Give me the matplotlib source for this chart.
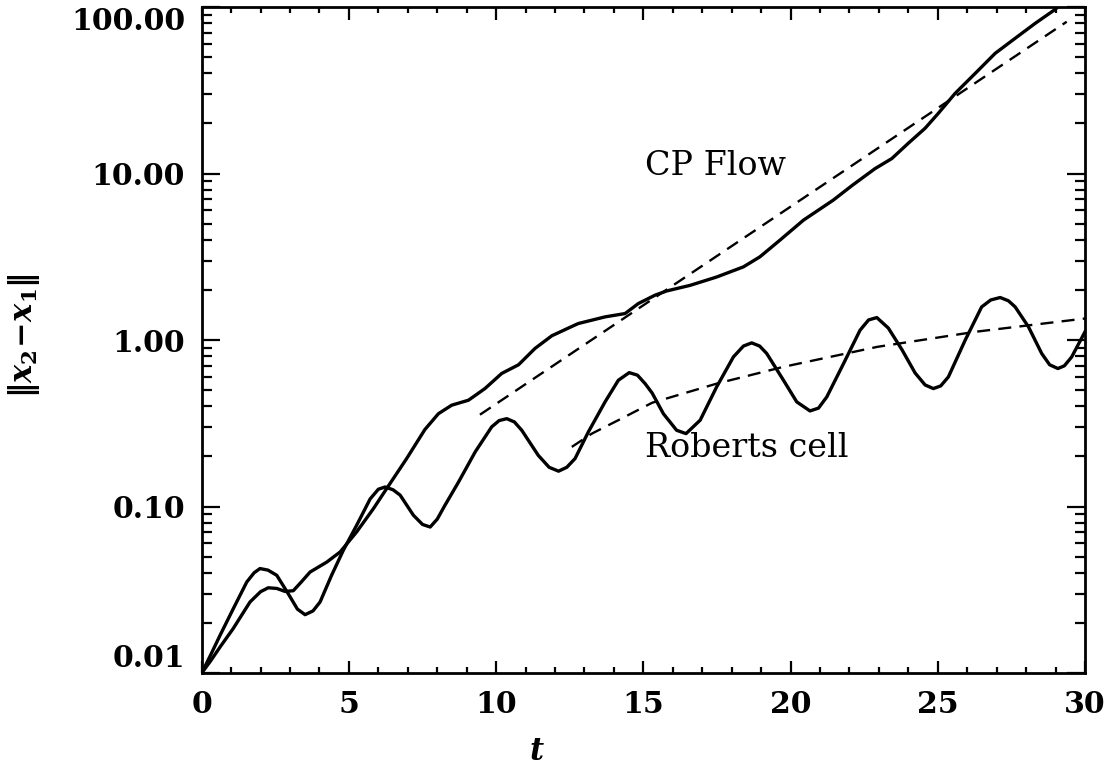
import numpy as np
import matplotlib
matplotlib.use('Agg')
import matplotlib.pyplot as plt
from matplotlib.ticker import FixedLocator, FixedFormatter, MultipleLocator

plt.rcParams['mathtext.fontset'] = 'custom'
plt.rcParams['mathtext.rm'] = 'DejaVu Serif:weight=bold'
plt.rcParams['mathtext.it'] = 'DejaVu Serif:style=italic:weight=bold'

# CP flow separation (solid)
t_cp = [0.0, 0.3, 0.62, 1.07, 1.64, 2.0, 2.26, 2.55, 2.83, 3.11, 3.4, 3.68,
        4.25, 4.7, 5.26, 5.83, 6.28, 6.96, 7.58, 8.04, 8.49, 9.06, 9.62,
        10.19, 10.76, 11.32, 11.89, 12.5, 12.79, 13.7, 14.38, 14.83, 15.4,
        15.79, 16.59, 17.49, 18.4, 18.96, 19.64, 20.44, 21.45, 22.1, 22.87,
        23.44, 24.0, 24.57, 25.02, 25.59, 26.27, 26.95, 27.63, 28.31, 28.99,
        29.1]
d_cp = [0.0100, 0.0118, 0.0143, 0.0185, 0.0267, 0.0308, 0.0325, 0.0322,
        0.0309, 0.0312, 0.0355, 0.0404, 0.0464, 0.0533, 0.0703, 0.097,
        0.128, 0.194, 0.29, 0.361, 0.406, 0.435, 0.511, 0.63, 0.71, 0.89,
        1.06, 1.19, 1.256, 1.377, 1.442, 1.656, 1.86, 1.97, 2.13, 2.39, 2.75,
        3.16, 3.98, 5.25, 6.92, 8.5, 10.7, 12.3, 15.2, 18.7, 23.0, 30.3, 39.9,
        52.7, 64.9, 79.8, 96.8, 101.0]

# Roberts cell separation (solid)
t_rc = [0.0, 0.3, 0.62, 1.07, 1.53, 1.78, 1.98, 2.25, 2.55, 2.94, 3.25, 3.51,
        3.78, 4.02, 4.41, 4.81, 5.26, 5.72, 6.0, 6.23, 6.5, 6.74, 7.19, 7.5,
        7.76, 8.0, 8.26, 8.72, 9.29, 9.85, 10.1, 10.36, 10.62, 10.87, 11.43,
        11.8, 12.12, 12.4, 12.68, 13.13, 13.7, 14.15, 14.52, 14.8, 15.06,
        15.3, 15.68, 16.13, 16.45, 16.93, 17.49, 18.06, 18.4, 18.68, 18.95,
        19.19, 19.76, 20.21, 20.66, 20.95, 21.23, 21.8, 22.36, 22.65, 22.93,
        23.32, 23.78, 24.23, 24.57, 24.85, 25.1, 25.36, 25.93, 26.49, 26.8,
        27.12, 27.4, 27.63, 28.08, 28.53, 28.8, 29.08, 29.3, 29.55, 30.0]
d_rc = [0.0100, 0.0128, 0.0168, 0.0243, 0.0352, 0.0400, 0.0424, 0.0415,
        0.0386, 0.0299, 0.0242, 0.0224, 0.0236, 0.0267, 0.0386, 0.0546,
        0.077, 0.111, 0.127, 0.131, 0.126, 0.117, 0.0886, 0.078, 0.0753,
        0.084, 0.1016, 0.140, 0.213, 0.301, 0.328, 0.337, 0.322, 0.287,
        0.203, 0.172, 0.163, 0.172, 0.194, 0.280, 0.425, 0.573, 0.637,
        0.615, 0.547, 0.48, 0.361, 0.287, 0.274, 0.330, 0.523, 0.792, 0.92,
        0.961, 0.92, 0.83, 0.573, 0.425, 0.375, 0.39, 0.455, 0.722, 1.145,
        1.32, 1.364, 1.18, 0.877, 0.634, 0.537, 0.511, 0.53, 0.600, 0.997,
        1.58, 1.74, 1.80, 1.72, 1.58, 1.20, 0.83, 0.71, 0.674, 0.70, 0.792,
        1.12]

# fitted growth (dashed)
t_cp_fit = [9.45, 29.38]
d_cp_fit = [0.356, 81.6]
t_rc_fit = [12.57, 13.25, 14.15, 15.3, 17.49, 19.76, 22.95, 26.27, 30.0]
d_rc_fit = [0.228, 0.274, 0.330, 0.42, 0.547, 0.690, 0.91, 1.12, 1.346]

y_ticks = [0.01, 0.1, 1.0, 10.0, 100.0]
y_ticklabels = ['0.01', '0.10', '1.00', '10.00', '100.00']
x_ticks = [0, 5, 10, 15, 20, 25, 30]

fig = plt.figure(figsize=(11.12, 7.71), dpi=100)
ax = fig.add_axes([0.1814, 0.1271, 0.7943, 0.8638])

lw = 2.4
ax.plot(t_cp, d_cp, color='black', lw=lw, solid_joinstyle='round')
ax.plot(t_rc, d_rc, color='black', lw=lw, solid_joinstyle='round')
ax.plot(t_cp_fit, d_cp_fit, color='black', lw=1.7, dashes=(5.5, 3.5))
ax.plot(t_rc_fit, d_rc_fit, color='black', lw=1.7, dashes=(5.5, 3.5))

ax.set_yscale('log')
ax.set_xlim(0, 30)
ax.set_ylim(0.01, 100)

ax.yaxis.set_major_locator(FixedLocator(y_ticks))
ax.yaxis.set_major_formatter(FixedFormatter(y_ticklabels))
ax.xaxis.set_major_locator(FixedLocator(x_ticks))
ax.xaxis.set_minor_locator(MultipleLocator(1))

for s in ax.spines.values():
    s.set_linewidth(2.0)

ax.tick_params(axis='both', which='both', direction='in', top=True, right=True,
               width=1.6, colors='black')
ax.tick_params(axis='x', which='major', length=9, pad=12)
ax.tick_params(axis='x', which='minor', length=4.5)
ax.tick_params(axis='y', which='major', length=13, pad=12)
ax.tick_params(axis='y', which='minor', length=7, labelleft=False)

for lbl in ax.get_xticklabels() + ax.get_yticklabels():
    lbl.set_fontfamily('DejaVu Serif')
    lbl.set_fontweight('bold')
    lbl.set_fontsize(21.5)
ylbls = ax.get_yticklabels()
ylbls[0].set_verticalalignment('bottom')
ylbls[-1].set_verticalalignment('top')

ax.set_ylabel(r'$\|x_2\!-\!x_1\|$', fontsize=22)
ax.yaxis.set_label_coords(-0.181, 0.507)
ax.set_xlabel(r'$t$', fontsize=22)
ax.xaxis.set_label_coords(0.38, -0.096)

ax.text(15.06, 9.77, 'CP Flow', family='DejaVu Serif', fontsize=24,
        va='baseline', ha='left')
ax.text(15.06, 0.197, 'Roberts cell', family='DejaVu Serif', fontsize=24,
        va='baseline', ha='left')

fig.savefig('out.png', dpi=100)
